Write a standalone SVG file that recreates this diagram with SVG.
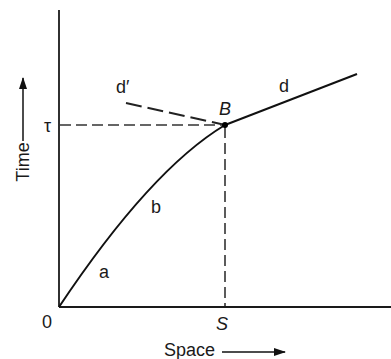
<svg xmlns="http://www.w3.org/2000/svg" width="391" height="359" viewBox="0 0 391 359">
<style>
.ax{stroke:#1a1a1a;stroke-width:1.8;fill:none}
.sol{stroke:#111;stroke-width:2;fill:none}
.dsh{stroke:#333;stroke-width:1.6;fill:none;stroke-dasharray:11 5}
.dsh2{stroke:#222;stroke-width:2;fill:none;stroke-dasharray:16 6}
text{font-family:"Liberation Sans",Arial,sans-serif;font-size:18px;fill:#1a1a1a}
.it{font-style:italic}
</style>
<defs>
<marker id="ah" markerWidth="12" markerHeight="8" refX="11" refY="4" orient="auto" markerUnits="userSpaceOnUse">
<path d="M0,0 L12,4 L0,8 Z" fill="#111"/>
</marker>
</defs>
<g id="connectors">
<line class="ax" x1="59" y1="10" x2="59" y2="307"/>
<line class="ax" x1="59" y1="307" x2="391" y2="307"/>
<path class="sol" d="M59,307 Q150.5,169.75 225,125"/>
<line class="sol" x1="225" y1="125" x2="357" y2="74"/>
<line class="dsh2" x1="126" y1="103" x2="223" y2="124.5"/>
<line class="dsh" x1="60" y1="125" x2="224" y2="125"/>
<line class="dsh" x1="225" y1="127" x2="225" y2="306"/>
<line stroke="#111" stroke-width="1.5" x1="23" y1="141" x2="23" y2="78" marker-end="url(#ah)"/>
<line stroke="#111" stroke-width="1.5" x1="222" y1="352" x2="285" y2="352" marker-end="url(#ah)"/>
</g>
<g id="B"><circle cx="225" cy="125" r="3" fill="#000"/><text class="it" x="219" y="115">B</text></g>
<g id="labels">
<text x="44" y="132">τ</text>
<text x="116" y="93">d′</text>
<text x="279" y="92">d</text>
<text x="151" y="213">b</text>
<text x="99" y="278">a</text>
<text x="42" y="328">0</text>
<text class="it" x="216" y="330">S</text>
<text x="164" y="356">Space</text>
<text transform="translate(29,162) rotate(-90)" text-anchor="middle">Time</text>
</g>
</svg>
